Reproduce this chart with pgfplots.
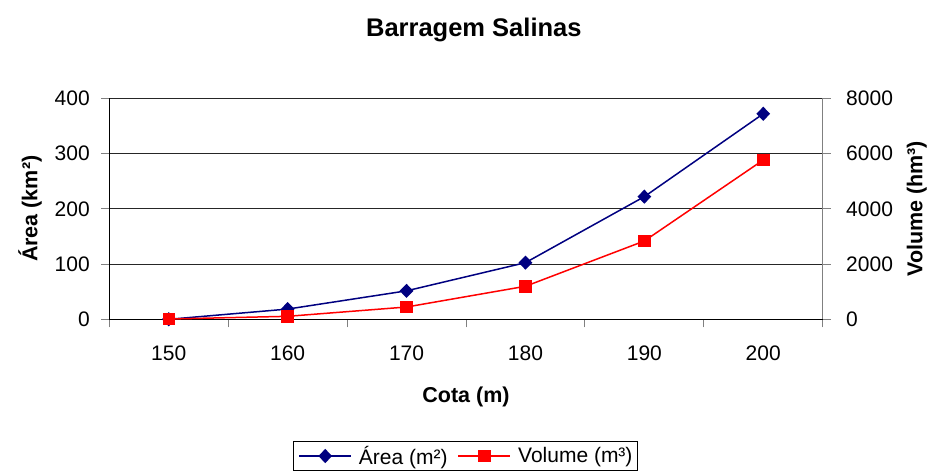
\documentclass[border=0pt]{standalone}
\usepackage{fontspec}
\setmainfont{Liberation Sans}
\usepackage{pgfplots}
\pgfplotsset{compat=1.18}

\definecolor{areablue}{RGB}{0,0,128}
\definecolor{volred}{RGB}{255,0,0}
\definecolor{axisgray}{RGB}{128,128,128}

\begin{document}
\begin{tikzpicture}
\pgfplotsset{
  every axis/.append style={
    scale only axis, width=713.4pt, height=221pt,
    xmin=0, xmax=6, clip=false,
    font=\fontsize{21}{25}\selectfont,
    /pgf/number format/assume math mode=true,
    /pgf/number format/1000 sep={},
    scaled y ticks=false,
    tick align=outside, major tick length=8pt,
    axis line style={line width=1pt},
    tick style={line width=1pt},
  }
}
% left axis: flooded area
\begin{axis}[name=main, at={(109.3pt,154.7pt)}, anchor=south west,
  axis x line*=bottom, axis y line*=left,
  ymin=0, ymax=400, ytick={0,100,...,400},
  ymajorgrids, grid style={black!85, line width=1pt},
  yticklabel style={xshift=-8pt},
  xtick={0,...,6}, xticklabels={,,,,,,},
  extra x ticks={0.5,1.5,...,5.5},
  extra x tick labels={150,160,170,180,190,200},
  extra x tick style={major tick length=0pt, grid=none,
    xticklabel style={yshift=-23pt}},
  title={Barragem Salinas},
  title style={font=\fontsize{25.5}{30}\selectfont\bfseries,
    at={(axis description cs:0.511,1.284)}, anchor=center},
  xlabel={Cota (m)},
  xlabel style={font=\fontsize{21.5}{25}\selectfont\bfseries,
    at={(axis description cs:0.5,-0.35)}, anchor=center},
  ylabel={Área (km²)},
  ylabel style={font=\fontsize{21.5}{25}\selectfont\bfseries,
    at={(axis description cs:-0.111,0.5)}, anchor=center},
]
\addplot[areablue, line width=1.5pt, mark=diamond*, mark size=6pt,
  mark options={xscale=1.3, solid}]
  coordinates {(0.5,0) (1.5,18.5) (2.5,51.5) (3.5,102.5) (4.5,222) (5.5,372)};
\end{axis}
% right axis: stored volume
\begin{axis}[at={(main.south west)}, anchor=south west,
  hide x axis, axis y line*=right,
  y axis line style={axisgray},
  ytick style={axisgray},
  yticklabel style={xshift=12pt},
  ymin=0, ymax=8000, ytick={0,2000,...,8000},
  ylabel={Volume (hm³)},
  ylabel style={font=\fontsize{21.5}{25}\selectfont\bfseries,
    at={(axis description cs:1.132,0.5)}, anchor=center},
  legend columns=2,
  legend style={at={(axis description cs:0.4993,-0.6186)}, anchor=center,
    draw=black, line width=0.8pt, font=\fontsize{21}{25}\selectfont,
    inner xsep=5pt, inner ysep=3pt,
    nodes={inner xsep=0pt, inner ysep=2pt},
    /tikz/every odd column/.append style={column sep=7pt},
    /tikz/every even column/.append style={column sep=10pt}},
  legend image code/.code={
    \draw[mark repeat=2, mark phase=2, #1]
      plot coordinates {(0pt,0pt) (26pt,0pt) (52pt,0pt)};},
]
\addlegendimage{areablue, line width=1.5pt, mark=diamond*, mark size=6pt,
  mark options={xscale=1.3, solid}}
\addlegendentry{Área (m²)}
\addplot[volred, line width=1.5pt, mark=square*, mark size=5.5pt]
  coordinates {(0.5,10) (1.5,108) (2.5,445) (3.5,1195) (4.5,2835) (5.5,5767)};
\addlegendentry{Volume (m³)}
\end{axis}
\pgfresetboundingbox
\useasboundingbox (0pt,0pt) rectangle (929pt,474pt);
\end{tikzpicture}
\end{document}
